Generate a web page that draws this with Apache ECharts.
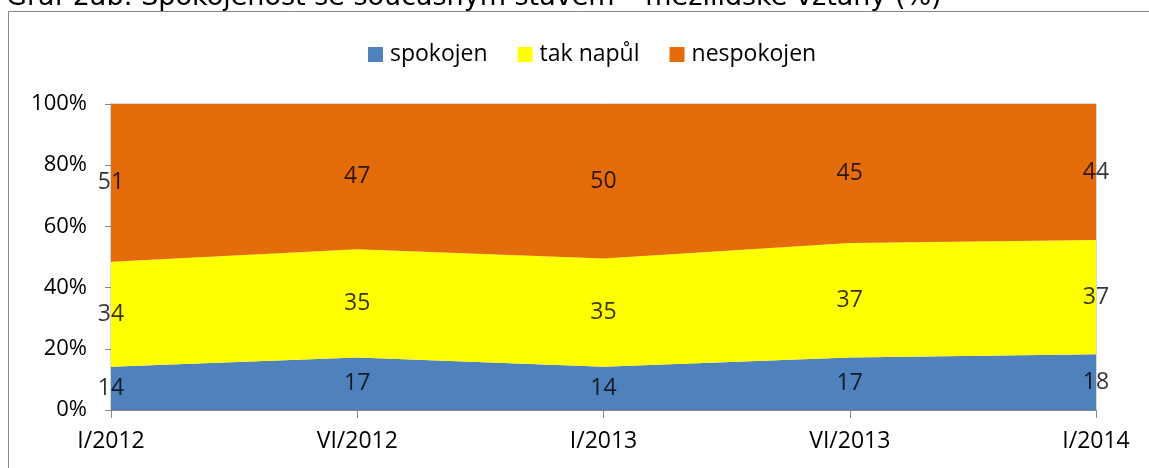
<!DOCTYPE html>
<html><head><meta charset="utf-8">
<script src="https://cdn.jsdelivr.net/npm/echarts@6/dist/echarts.min.js"></script>
<style>html,body{margin:0;padding:0;background:#fff;}#c{width:1149px;height:468px;}</style>
</head><body><div id="c"></div>
<script>
const categories = ['I/2012', 'VI/2012', 'I/2013', 'VI/2013', 'I/2014'];
const spokojen = [14, 17, 14, 17, 18];
const takNapul = [34, 35, 35, 37, 37];
const nespokojen = [51, 47, 50, 45, 44];
const yTicks = ['0%', '20%', '40%', '60%', '80%', '100%'];

const seriesNames = ['spokojen', 'tak napůl', 'nespokojen'];
const raw = [spokojen, takNapul, nespokojen];
const colors = ['#4F81BD', '#FFFF00', '#E46C0A'];
const totals = categories.map((_, i) => raw.reduce((s, a) => s + a[i], 0));
const pct = raw.map(a => a.map((v, i) => v / totals[i] * 100));

const lbl = "'Open Sans', sans-serif";
const series = [];
raw.forEach((a, k) => {
  series.push({
    name: seriesNames[k], type: 'line', stack: 'all', data: pct[k],
    symbol: 'none', lineStyle: { width: 0 }, itemStyle: { color: colors[k] },
    areaStyle: { color: colors[k], opacity: 1 }, z: 2
  });
});
raw.forEach((a, k) => {
  const mids = categories.map((c, i) => {
    let base = 0; for (let j = 0; j < k; j++) base += pct[j][i];
    return [i, base + pct[k][i] / 2, a[i]];
  });
  series.push({
    type: 'scatter', data: mids, symbolSize: 0, silent: true, z: 5,
    label: { show: true, position: 'inside', formatter: p => p.data[2],
      fontFamily: lbl, fontSize: 23, color: '#000', textBorderWidth: 0 }
  });
});

const chart = echarts.init(document.getElementById('c'));
chart.setOption({
  animation: false,
  title: { text: 'Graf 2ab: Spokojenost se současným stavem – mezilidské vztahy (%)',
    left: 1, top: -21, textStyle: { fontFamily: 'DejaVu Sans', fontSize: 27, fontWeight: 'normal', color: '#000' } },
  graphic: [{ type: 'rect', shape: { x: 8.5, y: 11.5, width: 1200, height: 600 },
    style: { fill: 'none', stroke: '#868686', lineWidth: 1 }, z: -1 }],
  legend: { data: seriesNames, top: 43, left: 368, padding: 0, itemWidth: 15, itemHeight: 15, itemGap: 30,
    icon: 'rect', textStyle: { fontFamily: lbl, fontSize: 23, color: '#000', padding: [0, 0, 0, 2] } },
  grid: { left: 111, right: 53, top: 104, bottom: 58, show: true, borderColor: '#b0b0b0', borderWidth: 1 },
  xAxis: { type: 'category', data: categories, boundaryGap: false,
    axisLine: { lineStyle: { color: '#868686', width: 1 } },
    axisTick: { show: true, length: 8, lineStyle: { color: '#868686' } },
    axisLabel: { fontFamily: lbl, fontSize: 23, color: '#000', margin: 20 } },
  yAxis: { type: 'value', min: 0, max: 100, interval: 20,
    axisLine: { show: true, lineStyle: { color: '#868686' } },
    axisTick: { show: true, length: 6, lineStyle: { color: '#868686' } },
    splitLine: { show: false },
    axisLabel: { fontFamily: lbl, fontSize: 22, color: '#000', margin: 24,
      formatter: v => yTicks[Math.round(v / 20)] } },
  series: series
});
</script></body></html>
